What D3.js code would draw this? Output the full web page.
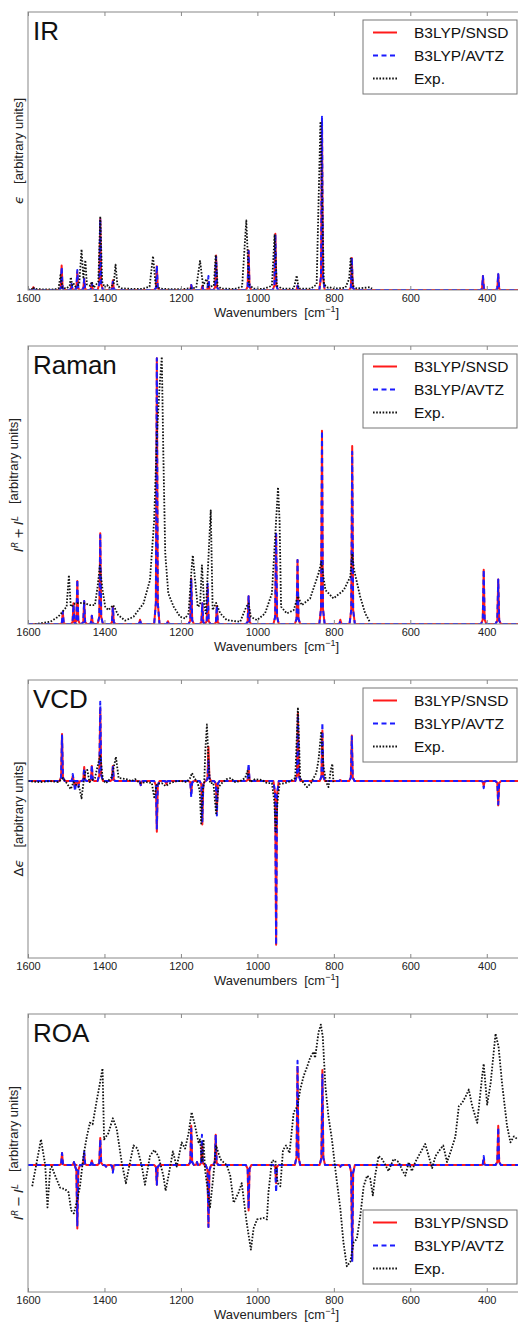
<html>
  <head>
    <script src="https://d3js.org/d3.v7.min.js"></script>
    <style>
      body { margin: 0; background: white; }
      text { font-family: "Liberation Sans", Arial, sans-serif; }
    </style>
  </head>
  <body>
    <svg id="chart" width="518" height="1325"></svg>
    <script>
      // x axis (wavenumbers, reversed)
      const wavenumberTicks = [1600, 1400, 1200, 1000, 800, 600, 400];
      const legendNames = ["B3LYP/SNSD", "B3LYP/AVTZ", "Exp."];

      // calculated bands: [wavenumber, SNSD, AVTZ]
      const irCalc = [
        [1586, 1, 1], [1512, 8.8, 8.3], [1486, 2, 2.2], [1471, 6.5, 7.2], [1453, 4, 4],
        [1433, 2.5, 2.5], [1411, 25.5, 25.6], [1378, 3.5, 3], [1263, 8.5, 8.8], [1173, 1.8, 1.8],
        [1144, 1.5, 1], [1128, 3, 5], [1108, 12.4, 12], [1023, 14.2, 14], [953, 20.2, 20],
        [895, 1.5, 1.5], [831, 60.5, 62.3], [753, 11.5, 11.7], [410, 5, 5], [370, 5.6, 5.8]
      ];
      const ramanCalc = [
        [1509, 4.4, 4.4], [1481, 7.5, 7], [1471, 15.5, 16], [1453, 8.3, 8.3], [1433, 3, 3],
        [1411, 32.6, 32], [1378, 6.2, 6], [1307, 1.5, 1.5], [1263, 95.6, 95.6], [1234, 1, 1],
        [1173, 16.4, 16], [1144, 7.5, 7.5], [1130, 13.5, 14.5], [1106, 6.5, 6.5], [1023, 10, 10],
        [951, 32.5, 32.5], [895, 23, 23], [831, 69.5, 69.5], [783, 1.5, 1], [752, 64, 62],
        [408, 19.5, 19.5], [370, 16, 16]
      ];
      const vcdCalc = [
        [1511, 0.465, 0.45], [1483, 0.05, 0.07], [1477, -0.07, -0.1], [1468, -0.04, -0.06],
        [1453, 0.14, 0.13], [1433, 0.15, 0.16], [1411, 0.72, 0.785], [1378, 0.15, 0.14],
        [1305, -0.04, -0.04], [1263, -0.5, -0.47], [1238, -0.03, -0.03], [1173, -0.12, -0.16],
        [1144, -0.43, -0.4], [1128, 0.34, 0.2], [1106, -0.3, -0.34], [1023, 0.13, 0.175],
        [951, -1.62, -1.62], [894, 0.67, 0.65], [830, 0.5, 0.58], [783, 0.01, 0.02],
        [753, 0.45, 0.44], [408, -0.05, -0.07], [370, -0.24, -0.23]
      ];
      const roaCalc = [
        [1511, 0.08, 0.08], [1480, 0.02, 0.02], [1471, -0.42, -0.4], [1453, 0.08, 0.09],
        [1433, 0.03, 0.03], [1411, 0.18, 0.17], [1396, -0.01, -0.01], [1378, -0.04, -0.05],
        [1263, -0.13, -0.13], [1173, 0.26, 0.24], [1158, 0.02, 0.02], [1145, 0.15, 0.2],
        [1128, -0.41, -0.41], [1109, 0.2, 0.2], [1023, -0.3, -0.29], [951, -0.12, -0.18],
        [895, 0.65, 0.69], [830, 0.63, 0.6], [783, -0.01, -0.01], [752, -0.63, -0.64],
        [408, 0.04, 0.06], [370, 0.26, 0.25]
      ];

      // experimental spectra: [wavenumber, value]
      const irExp = [
        [1600, 0.2], [1590, 0.3], [1587, 1], [1583, 0.4], [1560, 0.2], [1530, 0.2], [1520, 0.6],
        [1515, 5.4], [1510, 0.8], [1500, 0.5], [1491, 1.5], [1488, 4.6], [1484, 1.5], [1480, 2.2],
        [1476, 1.2], [1466, 2], [1460, 14.6], [1455, 4], [1450, 10.7], [1446, 2], [1437, 1.5],
        [1433, 3], [1428, 0.8], [1416, 3], [1411, 26.5], [1406, 3], [1400, 1], [1393, 1.8],
        [1388, 0.8], [1376, 2], [1371, 9.1], [1366, 1.5], [1355, 0.6], [1330, 0.4], [1300, 0.4],
        [1282, 1.2], [1273, 12.2], [1266, 1.5], [1255, 0.5], [1230, 0.3], [1200, 0.3], [1160, 0.8],
        [1150, 10.5], [1142, 1.5], [1135, 3.5], [1133, 4], [1128, 1.2], [1114, 1.5], [1109, 12.6],
        [1104, 1.5], [1095, 0.5], [1060, 0.4], [1040, 1.2], [1029, 25], [1022, 2], [1010, 0.5],
        [985, 0.4], [962, 1.5], [955, 20], [949, 1.5], [935, 0.5], [905, 0.5], [897, 5.2],
        [892, 0.5], [860, 0.5], [845, 2], [835, 60.6], [826, 2], [815, 0.8], [811, 1], [800, 0.5],
        [770, 0.8], [760, 4], [756, 11.4], [750, 1.5], [740, 0.5], [720, 0.8], [706, 1], [700, 0.5]
      ];
      const ramanExp = [
        [1582, 0], [1542, 0.8], [1521, 2.6], [1499, 6.2], [1493, 17.6], [1488, 6.2], [1477, 7.4],
        [1464, 7.6], [1451, 7.4], [1438, 6.8], [1425, 6.8], [1418, 13.4], [1412, 21.1], [1405, 12.2],
        [1398, 6.2], [1390, 5], [1377, 6.8], [1364, 3.2], [1346, 1.2], [1324, 2.6], [1298, 7.4],
        [1281, 15.8], [1270, 37.3], [1263, 67.1], [1256, 85.1], [1250, 96.1], [1246, 61.2],
        [1241, 25.3], [1233, 11], [1219, 6.2], [1202, 2.6], [1189, 2], [1180, 3.8], [1173, 18.2],
        [1169, 24.7], [1163, 15.8], [1156, 6.2], [1150, 6.8], [1145, 21.1], [1139, 6.8],
        [1135, 3.8], [1122, 40.9], [1117, 5], [1108, 7.6], [1097, 3.8], [1080, 1.4], [1045, 0.8],
        [1029, 6.2], [1023, 7.4], [1017, 2.6], [1001, 1.4], [980, 3.8], [962, 11], [953, 32.5],
        [946, 49.2], [942, 37.3], [938, 6.2], [923, 3.8], [905, 5], [894, 10], [884, 6.8],
        [862, 9.2], [840, 18.2], [833, 22.3], [822, 12.2], [801, 9.2], [774, 12.2], [757, 17],
        [752, 25.3], [747, 19.4], [731, 9.8], [718, 3.8], [706, 0.8]
      ];
      const vcdExp = [
        [1600, 0], [1569, -0.01], [1542, 0], [1521, -0.01], [1508, 0.03], [1499, -0.02],
        [1488, -0.08], [1481, -0.01], [1473, -0.04], [1466, -0.06], [1460, -0.17], [1455, -0.02],
        [1450, 0.09], [1445, 0.11], [1439, -0.01], [1425, 0.03], [1411, 0.26], [1404, 0.01],
        [1396, -0.02], [1381, 0.04], [1370, 0.24], [1363, 0.03], [1343, 0.02], [1329, 0],
        [1320, 0.02], [1307, -0.02], [1289, -0.01], [1276, -0.02], [1270, -0.16], [1263, -0.03],
        [1250, -0.02], [1240, -0.05], [1228, -0.02], [1211, 0], [1198, 0], [1185, -0.01],
        [1176, 0.03], [1171, 0.08], [1165, 0.03], [1157, -0.01], [1151, -0.09], [1147, -0.42],
        [1143, -0.09], [1139, -0.01], [1136, 0.31], [1132, 0.56], [1128, 0.21], [1124, -0.02],
        [1115, -0.02], [1108, -0.32], [1102, -0.06], [1093, -0.02], [1080, 0.02], [1069, 0.03],
        [1058, -0.01], [1045, 0], [1032, 0.03], [1026, 0.1], [1019, -0.01], [1006, 0.02],
        [988, 0.01], [975, -0.02], [962, -0.02], [956, -0.19], [952, -0.5], [947, -0.19],
        [942, -0.03], [927, -0.02], [914, 0], [901, 0.03], [894, 0.73], [888, 0.03], [879, -0.02],
        [870, -0.06], [860, -0.02], [853, 0.03], [846, 0.08], [840, 0.21], [833, 0.49],
        [827, 0.14], [820, -0.01], [814, -0.06], [808, 0.11], [804, 0.17], [801, -0.01]
      ];
      const roaExp = [
        [1589, -0.14], [1566, 0.17], [1555, 0], [1549, -0.28], [1542, -0.03], [1538, -0.01],
        [1529, -0.07], [1516, -0.15], [1503, -0.16], [1494, -0.18], [1487, -0.3], [1480, -0.32],
        [1473, -0.25], [1464, -0.14], [1455, 0.06], [1446, 0.19], [1438, 0.28], [1431, 0.27],
        [1420, 0.43], [1412, 0.54], [1405, 0.64], [1401, 0.17], [1390, 0.21], [1378, 0.31],
        [1368, 0.24], [1355, 0.02], [1344, -0.12], [1333, 0.02], [1324, 0.13], [1314, 0.11],
        [1302, -0.01], [1294, -0.13], [1281, 0.06], [1270, 0.1], [1259, 0.06], [1246, -0.07],
        [1240, -0.17], [1228, -0.01], [1221, 0.09], [1211, -0.01], [1198, 0.15], [1189, 0.11],
        [1180, 0.21], [1172, 0.35], [1163, 0.26], [1154, 0.15], [1150, 0.17], [1145, 0.02],
        [1141, 0.17], [1137, -0.03], [1128, -0.2], [1124, -0.28], [1115, -0.07], [1108, 0.13],
        [1097, 0.04], [1089, 0.02], [1080, 0], [1071, -0.07], [1062, -0.25], [1049, -0.18],
        [1041, -0.12], [1028, -0.38], [1017, -0.56], [1010, -0.42], [1001, -0.36], [984, -0.35],
        [975, -0.36], [971, -0.18], [962, 0.03], [953, 0.03], [947, -0.12], [940, -0.14],
        [933, 0.1], [925, 0.13], [916, 0.08], [905, 0.35], [895, 0.39], [888, 0.5], [879, 0.59],
        [870, 0.65], [862, 0.71], [853, 0.75], [849, 0.71], [840, 0.88], [834, 0.93], [829, 0.85],
        [822, 0.52], [814, 0.32], [805, 0.17], [796, -0.03], [783, -0.29], [775, -0.51],
        [766, -0.67], [757, -0.64], [748, -0.51], [740, -0.49], [731, -0.34], [722, -0.14],
        [713, -0.07], [705, -0.09], [698, -0.2], [692, -0.07], [683, 0.06], [674, 0.04],
        [665, 0], [657, -0.04], [644, 0.04], [630, 0.02], [622, -0.03], [613, -0.07], [604, 0.02],
        [596, -0.04], [587, 0.02], [574, 0.08], [561, 0.14], [552, 0.06], [543, -0.02],
        [534, 0.06], [523, 0.1], [514, 0.13], [504, 0.02], [493, 0.1], [482, 0.19], [473, 0.39],
        [465, 0.41], [456, 0.45], [447, 0.5], [438, 0.39], [425, 0.28], [412, 0.59], [408, 0.67],
        [399, 0.4], [390, 0.54], [377, 0.87], [369, 0.78], [360, 0.54], [347, 0.26], [338, 0.15],
        [329, 0.19], [319, 0.17], [300, 0.16]
      ];

      const svg = d3.select("#chart");
      const plotLeft = 28, plotRight = 525, plotHeight = 278;
      const panelTops = [12, 346, 680, 1014];

      const x = d3.scaleLinear().domain([1600, 300]).range([plotLeft, plotRight]);

      const panels = [
        { name: "IR", calc: irCalc, exp: irExp, yDomain: [0, 100], sym: "eps", legendBottom: false },
        { name: "Raman", calc: ramanCalc, exp: ramanExp, yDomain: [0, 100], sym: "sum", legendBottom: false },
        { name: "VCD", calc: vcdCalc, exp: vcdExp, yDomain: [-1.75, 1], sym: "deps", legendBottom: false },
        { name: "ROA", calc: roaCalc, exp: roaExp, yDomain: [-0.84, 1], sym: "diff", legendBottom: true }
      ];

      // turn a band list into a narrow spike outline along the baseline
      function spikes(bands, col) {
        const pts = [[1600, 0]];
        bands.forEach((b) => {
          const h = b[col];
          pts.push([b[0] + 7, 0], [b[0] + 2.5, h * 0.08], [b[0], h], [b[0] - 2.5, h * 0.08], [b[0] - 7, 0]);
        });
        pts.push([300, 0]);
        return pts;
      }

      const styles = [
        { color: "#ff1a1a", dash: null, width: 2 },
        { color: "#1a1aff", dash: "5,3.5", width: 2 },
        { color: "#111", dash: "1.6,1.6", width: 1.8 }
      ];

      panels.forEach((p, i) => {
        const top = panelTops[i];
        const bottom = top + plotHeight;
        const y = d3.scaleLinear().domain(p.yDomain).range([bottom, top]);
        const g = svg.append("g");

        g.append("clipPath").attr("id", "clip" + i)
          .append("rect").attr("x", plotLeft).attr("y", top).attr("width", plotRight - plotLeft).attr("height", plotHeight);

        const line = d3.line().x((d) => x(d[0])).y((d) => y(d[1]));
        const plot = g.append("g").attr("clip-path", "url(#clip" + i + ")");

        const series = [spikes(p.calc, 1), spikes(p.calc, 2), p.exp];
        series.forEach((s, k) => {
          plot.append("path")
            .datum(s)
            .attr("d", line)
            .style("fill", "none")
            .style("stroke", styles[k].color)
            .style("stroke-width", styles[k].width)
            .style("stroke-dasharray", styles[k].dash)
            .style("stroke-linejoin", "round");
        });

        // frame
        g.append("rect")
          .attr("x", plotLeft).attr("y", top)
          .attr("width", plotRight - plotLeft).attr("height", plotHeight)
          .style("fill", "none").style("stroke", "#888").style("stroke-width", 1);

        // ticks inside, top and bottom
        const bottomAxis = d3.axisBottom(x).tickValues(wavenumberTicks).tickFormat(d3.format("d"))
          .tickSizeInner(-4).tickSizeOuter(0).tickPadding(4);
        const ax = g.append("g").attr("transform", "translate(0," + bottom + ")").call(bottomAxis);
        ax.select(".domain").remove();
        ax.selectAll("line").style("stroke", "#888");
        ax.selectAll("text").style("font-size", "11px").style("fill", "#222")
          .style("font-family", "'Liberation Sans', Arial, sans-serif");

        const topAxis = d3.axisTop(x).tickValues(wavenumberTicks).tickSizeInner(-4).tickSizeOuter(0).tickFormat("");
        const tx = g.append("g").attr("transform", "translate(0," + top + ")").call(topAxis);
        tx.select(".domain").remove();
        tx.selectAll("line").style("stroke", "#888");

        // panel title
        g.append("text").attr("x", 33).attr("y", top + 28)
          .style("font-size", "26px").style("fill", "#111").text(p.name);

        // x label
        const xl = g.append("text")
          .attr("x", (plotLeft + plotRight) / 2).attr("y", bottom + 27)
          .attr("text-anchor", "middle").style("font-size", "13px").style("fill", "#222");
        xl.append("tspan").text("Wavenumbers");
        xl.append("tspan").attr("dx", 7).text("[cm");
        xl.append("tspan").attr("dy", -5).style("font-size", "9px").text("\u22121");
        xl.append("tspan").attr("dy", 5).text("]");

        // y label
        const yl = g.append("text")
          .attr("transform", "translate(23," + (top + plotHeight / 2) + ") rotate(-90)")
          .attr("text-anchor", "middle").style("font-size", "13px").style("fill", "#222");
        const mathFont = "'DejaVu Sans', sans-serif";
        if (p.sym === "eps") {
          yl.append("tspan").style("font-style", "italic").style("font-family", mathFont).text("\u03f5");
        } else if (p.sym === "deps") {
          yl.append("tspan").style("font-family", mathFont).text("\u0394");
          yl.append("tspan").style("font-style", "italic").style("font-family", mathFont).text("\u03f5");
        } else {
          const op = p.sym === "sum" ? "+" : "\u2212";
          yl.append("tspan").style("font-style", "italic").style("font-family", mathFont).text("I");
          yl.append("tspan").attr("dy", -5).style("font-style", "italic").style("font-size", "9px").style("font-family", mathFont).text("R");
          yl.append("tspan").attr("dy", 5).attr("dx", 3).style("font-family", mathFont).text(op);
          yl.append("tspan").attr("dx", 3).style("font-style", "italic").style("font-family", mathFont).text("I");
          yl.append("tspan").attr("dy", -5).style("font-style", "italic").style("font-size", "9px").style("font-family", mathFont).text("L");
          yl.append("tspan").attr("dy", 5).text("");
        }
        yl.append("tspan").attr("dx", 12).text("[arbitrary units]");

        // legend
        const boxTop = p.legendBottom ? bottom - 8 - 74 : top + 8;
        const lg = g.append("g").attr("transform", "translate(363," + boxTop + ")");
        lg.append("rect").attr("width", 154).attr("height", 74)
          .style("fill", "white").style("stroke", "#777").style("stroke-width", 1);
        legendNames.forEach((name, k) => {
          const cy = 12.5 + k * 23;
          lg.append("line").attr("x1", 10).attr("x2", 34).attr("y1", cy).attr("y2", cy)
            .style("stroke", styles[k].color).style("stroke-width", styles[k].width)
            .style("stroke-dasharray", styles[k].dash);
          lg.append("text").attr("x", 51).attr("y", cy + 5.5)
            .style("font-size", "15.5px").style("fill", "#111").text(name);
        });
      });
    </script>
  </body>
</html>
